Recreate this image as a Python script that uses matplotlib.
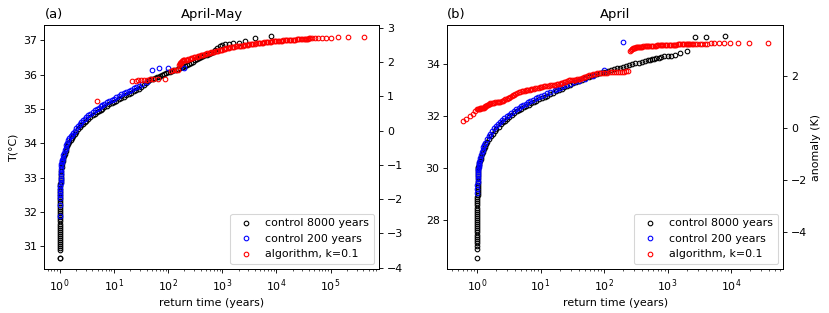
import matplotlib
matplotlib.use("Agg")
import matplotlib.pyplot as plt

# ---- panel (a): April-May ----
black_a_x = [1.0, 1.0, 1.001, 1.001, 1.002, 1.002, 1.003, 1.003, 1.004, 1.004,
             1.005, 1.005, 1.006, 1.007, 1.008, 1.009, 1.01, 1.011, 1.012, 1.013,
             1.014, 1.015, 1.016, 1.017, 1.018, 1.019, 1.02, 1.021, 1.022, 1.023,
             1.025, 1.027, 1.029, 1.031, 1.033, 1.036, 1.039, 1.042, 1.046, 1.05,
             1.06, 1.08, 1.10, 1.13, 1.167, 1.202, 1.24, 1.282, 1.327, 1.371,
             1.419, 1.503, 1.592, 1.683, 1.782, 1.888, 2.023, 2.173, 2.328, 2.5,
             2.685, 2.884, 3.097, 3.38, 3.69, 4.03, 4.4, 4.79, 5.2, 5.66,
             6.15, 6.7, 7.41, 8.2, 9.06, 10.02, 11.09, 12.33, 13.71, 15.2,
             16.9, 18.8, 20.9, 23.2, 25.8, 28.6, 32, 36, 39, 42,
             45, 49, 53, 57, 62, 67, 72, 78, 85, 92,
             100, 108, 117, 127, 138, 150, 163, 177, 192, 208,
             226, 245, 266, 290, 315, 342, 372, 405, 440, 480,
             533, 571, 615, 667, 727, 800, 889, 1000, 1143, 1333,
             1600, 2000, 2667, 4000, 8000]
black_a_T = [30.65, 30.67, 30.88, 30.94, 31.0, 31.06, 31.12, 31.18, 31.24, 31.3,
             31.36, 31.42, 31.48, 31.54, 31.6, 31.66, 31.72, 31.78, 31.84, 31.9,
             31.96, 32.02, 32.08, 32.14, 32.2, 32.26, 32.32, 32.38, 32.44, 32.5,
             32.56, 32.62, 32.68, 32.74, 32.8, 32.86, 32.92, 32.98, 33.04, 33.1,
             33.2, 33.3, 33.4, 33.48, 33.55, 33.62, 33.69, 33.76, 33.84, 33.91,
             33.98, 34.04, 34.1, 34.15, 34.21, 34.27, 34.34, 34.4, 34.47, 34.52,
             34.57, 34.61, 34.66, 34.71, 34.76, 34.81, 34.86, 34.9, 34.94, 34.97,
             35.01, 35.05, 35.09, 35.13, 35.16, 35.2, 35.24, 35.28, 35.32, 35.36,
             35.4, 35.44, 35.47, 35.51, 35.55, 35.59, 35.65, 35.71, 35.76, 35.8,
             35.84, 35.86, 35.88, 35.9, 35.92, 35.94, 35.96, 35.98, 36.01, 36.04,
             36.06, 36.08, 36.1, 36.12, 36.14, 36.17, 36.19, 36.21, 36.23, 36.26,
             36.29, 36.32, 36.35, 36.38, 36.41, 36.44, 36.47, 36.5, 36.53, 36.56,
             36.58, 36.6, 36.63, 36.66, 36.72, 36.78, 36.82, 36.85, 36.88, 36.9,
             36.91, 36.93, 36.97, 37.06, 37.12]

blue_a_x = [1.0, 1.005, 1.01, 1.015, 1.02, 1.026, 1.031, 1.036, 1.042, 1.047,
            1.053, 1.058, 1.064, 1.07, 1.075, 1.081, 1.087, 1.10, 1.13, 1.167,
            1.202, 1.24, 1.282, 1.327, 1.371, 1.419, 1.503, 1.592, 1.683, 1.782,
            1.888, 2.023, 2.173, 2.328, 2.5, 2.685, 2.884, 3.097, 3.38, 3.69,
            4.03, 4.4, 4.79, 5.2, 5.66, 6.15, 6.7, 7.41, 8.2, 9.06,
            10.02, 11.09, 12.33, 13.71, 15.2, 16.9, 18.8, 20.9, 23.2, 25.8,
            28.6, 33.3, 40, 50, 66.7, 100, 200]
blue_a_T = [31.87, 32.19, 32.39, 32.5, 32.58, 32.66, 32.74, 32.83, 32.92, 33.0,
            33.09, 33.17, 33.25, 33.33, 33.39, 33.44, 33.47, 33.5, 33.57, 33.65,
            33.72, 33.79, 33.86, 33.94, 34.01, 34.08, 34.14, 34.2, 34.25, 34.31,
            34.37, 34.44, 34.5, 34.57, 34.62, 34.67, 34.71, 34.76, 34.81, 34.86,
            34.91, 34.96, 35.0, 35.04, 35.07, 35.11, 35.15, 35.19, 35.23, 35.26,
            35.3, 35.34, 35.38, 35.42, 35.45, 35.49, 35.53, 35.56, 35.6, 35.63,
            35.66, 35.72, 35.78, 36.14, 36.19, 36.2, 36.2]

red_a_x = [4.86, 21.8, 25.1, 28.1, 31.4, 36.3, 40.5, 45.4, 53.8, 64.6,
           85.9, 114, 125, 140, 155, 162, 165, 168, 171, 175,
           180, 186, 193, 200, 212, 224, 237, 251, 266, 282,
           299, 316, 335, 355, 376, 398, 422, 447, 473, 501,
           531, 562, 596, 631, 669, 708, 750, 794, 841, 891,
           944, 1000, 1060, 1122, 1189, 1259, 1334, 1413, 1497, 1585,
           1679, 1778, 1884, 1995, 2113, 2239, 2371, 2512, 2661, 2818,
           2985, 3162, 3350, 3548, 3758, 3981, 4217, 4467, 4732, 5012,
           5309, 5623, 5957, 6310, 6683, 7079, 7499, 7943, 8414, 8913,
           9441, 10000, 10590, 11220, 11890, 12590, 13340, 14130, 14970, 15850,
           16790, 17780, 18840, 19950, 21130, 22390, 23710, 25120, 26610, 28180,
           29850, 31620, 33000, 34500, 36000, 37600, 39400, 41400, 46000, 51750,
           59100, 69000, 82800, 103500, 138000, 207000, 414000]
red_a_T = [35.24, 35.82, 35.82, 35.83, 35.83, 35.84, 35.85, 35.86, 35.86, 35.87,
           35.88, 36.11, 36.12, 36.12, 36.13, 36.28, 36.31, 36.33, 36.35, 36.37,
           36.39, 36.41, 36.415, 36.42, 36.425, 36.43, 36.445, 36.46, 36.475, 36.49,
           36.5, 36.51, 36.52, 36.53, 36.545, 36.56, 36.57, 36.58, 36.595, 36.61,
           36.62, 36.63, 36.64, 36.65, 36.66, 36.67, 36.68, 36.69, 36.7, 36.71,
           36.72, 36.73, 36.74, 36.75, 36.76, 36.77, 36.78, 36.79, 36.8, 36.81,
           36.815, 36.82, 36.825, 36.83, 36.835, 36.84, 36.845, 36.85, 36.86, 36.87,
           36.875, 36.88, 36.885, 36.89, 36.895, 36.9, 36.905, 36.91, 36.915, 36.92,
           36.925, 36.93, 36.935, 36.94, 36.945, 36.95, 36.955, 36.96, 36.965, 36.97,
           36.97, 36.97, 36.975, 36.98, 36.985, 36.99, 36.995, 37.0, 37.0, 37.0,
           37.005, 37.01, 37.015, 37.02, 37.02, 37.02, 37.025, 37.03, 37.035, 37.04,
           37.04, 37.04, 37.045, 37.05, 37.05, 37.05, 37.055, 37.06, 37.06, 37.07,
           37.07, 37.07, 37.07, 37.07, 37.08, 37.08, 37.08]

# ---- panel (b): April ----
black_b_x = [1.0, 1.0, 1.0, 1.001, 1.001, 1.001, 1.002, 1.002, 1.002, 1.003,
             1.003, 1.003, 1.004, 1.004, 1.005, 1.005, 1.006, 1.006, 1.007, 1.008,
             1.009, 1.01, 1.011, 1.012, 1.013, 1.014, 1.015, 1.016, 1.017, 1.018,
             1.02, 1.022, 1.024, 1.026, 1.028, 1.031, 1.034, 1.037, 1.041, 1.045,
             1.05, 1.07, 1.09, 1.11, 1.14, 1.17, 1.2, 1.24, 1.28, 1.33,
             1.38, 1.45, 1.54, 1.64, 1.75, 1.88, 2.02, 2.18, 2.35, 2.54,
             2.74, 2.96, 3.2, 3.5, 3.83, 4.2, 4.6, 5.0, 5.45, 5.95,
             6.5, 7.1, 7.8, 8.6, 9.5, 10.5, 11.6, 12.8, 14.2, 15.7,
             17.4, 19.3, 21.4, 23.7, 26.3, 29.2, 32.4, 36, 40, 45,
             51, 57, 63, 70, 78, 87, 96, 106, 117, 130,
             144, 160, 178, 198, 220, 245, 275, 311, 350, 395,
             448, 500, 533, 571, 615, 667, 727, 800, 889, 1000,
             1143, 1333, 1600, 2000, 2667, 4000, 8000]
black_b_T = [26.53, 26.88, 27.0, 27.1, 27.2, 27.28, 27.36, 27.44, 27.52, 27.6,
             27.68, 27.76, 27.84, 27.92, 28.0, 28.08, 28.16, 28.24, 28.32, 28.4,
             28.48, 28.56, 28.64, 28.72, 28.8, 28.88, 28.96, 29.04, 29.12, 29.2,
             29.28, 29.36, 29.44, 29.52, 29.6, 29.68, 29.76, 29.84, 29.92, 30.0,
             30.05, 30.12, 30.19, 30.26, 30.35, 30.44, 30.53, 30.63, 30.72, 30.82,
             30.91, 31.01, 31.12, 31.22, 31.32, 31.42, 31.51, 31.6, 31.68, 31.76,
             31.83, 31.9, 31.97, 32.04, 32.11, 32.18, 32.24, 32.29, 32.34, 32.39,
             32.44, 32.49, 32.54, 32.59, 32.64, 32.69, 32.74, 32.79, 32.84, 32.89,
             32.95, 33.0, 33.06, 33.11, 33.16, 33.21, 33.26, 33.31, 33.36, 33.4,
             33.45, 33.49, 33.53, 33.57, 33.61, 33.65, 33.68, 33.71, 33.74, 33.78,
             33.81, 33.84, 33.87, 33.9, 33.93, 33.96, 33.99, 34.03, 34.06, 34.1,
             34.13, 34.15, 34.17, 34.19, 34.2, 34.22, 34.25, 34.28, 34.3, 34.31,
             34.32, 34.35, 34.44, 34.51, 35.04, 35.05, 35.08]

blue_b_x = [1.0, 1.005, 1.01, 1.015, 1.02, 1.026, 1.031, 1.036, 1.042, 1.047,
            1.053, 1.064, 1.075, 1.087, 1.10, 1.13, 1.16, 1.19, 1.22, 1.26,
            1.30, 1.35, 1.43, 1.52, 1.62, 1.72, 1.86, 2.0, 2.16, 2.33,
            2.51, 2.70, 2.92, 3.14, 3.44, 3.77, 4.13, 4.52, 4.92, 5.35,
            5.82, 6.34, 6.9, 7.6, 8.37, 9.23, 10.16, 11.2, 12.5, 14.3,
            16.7, 18.2, 20, 22.2, 25, 28.6, 33.3, 40, 50, 66.7,
            100, 200]
blue_b_T = [29.03, 29.2, 29.35, 29.47, 29.58, 29.68, 29.77, 29.85, 29.92, 29.98,
            30.03, 30.1, 30.17, 30.23, 30.3, 30.4, 30.5, 30.6, 30.7, 30.8,
            30.88, 30.98, 31.1, 31.22, 31.33, 31.42, 31.53, 31.62, 31.71, 31.79,
            31.86, 31.93, 32.0, 32.06, 32.13, 32.2, 32.27, 32.33, 32.38, 32.43,
            32.48, 32.53, 32.58, 32.63, 32.68, 32.73, 32.78, 32.83, 32.88, 32.94,
            33.01, 33.05, 33.1, 33.15, 33.2, 33.25, 33.3, 33.36, 33.43, 33.55,
            33.78, 34.87]

red_b_x = [0.59, 0.68, 0.76, 0.85, 0.92, 1.0, 1.03, 1.06, 1.095, 1.13,
           1.165, 1.2, 1.235, 1.27, 1.31, 1.35, 1.395, 1.44, 1.485, 1.53,
           1.575, 1.62, 1.7, 1.78, 1.86, 1.94, 2.03, 2.13, 2.23, 2.33,
           2.44, 2.55, 2.67, 2.79, 2.92, 3.05, 3.2, 3.35, 3.5, 3.65,
           3.82, 4.0, 4.25, 4.5, 4.8, 5.1, 5.35, 5.6, 5.85, 6.1,
           6.4, 6.7, 7.0, 7.35, 7.8, 8.3, 8.8, 9.35, 9.8, 10.2,
           10.7, 11.2, 11.9, 12.7, 13.5, 14.3, 15.2, 16.1, 17.1, 18.1,
           19.0, 19.9, 20.8, 21.8, 23.2, 24.6, 26.1, 27.7, 29.4, 31.3,
           33.2, 35.3, 37.6, 40, 42.4, 45, 48, 51, 54, 57.5,
           61.5, 66, 71, 77, 83, 89, 97, 105, 113, 122,
           132, 142, 154, 166, 179, 192, 207, 222, 235, 260,
           266, 272, 278, 285, 292, 300, 310, 320, 332, 345,
           357, 370, 385, 400, 417, 435, 455, 475, 497, 520,
           545, 570, 597, 625, 655, 685, 717, 750, 785, 820,
           860, 900, 945, 990, 1040, 1090, 1145, 1200, 1260, 1320,
           1385, 1450, 1525, 1600, 1680, 1760, 1850, 1940, 2030, 2130,
           2210, 2290, 2394, 2553, 2736, 2946, 3192, 3482, 3830, 4256,
           4788, 5471, 6383, 7660, 9575, 12770, 19150, 38300]
red_b_T = [31.81, 31.9, 32.0, 32.1, 32.19, 32.26, 32.27, 32.28, 32.29, 32.3,
           32.3, 32.31, 32.32, 32.33, 32.35, 32.38, 32.4, 32.42, 32.44, 32.46,
           32.47, 32.49, 32.5, 32.51, 32.52, 32.53, 32.535, 32.54, 32.545, 32.55,
           32.57, 32.6, 32.62, 32.64, 32.66, 32.69, 32.71, 32.74, 32.77, 32.8,
           32.83, 32.87, 32.89, 32.91, 32.93, 32.95, 32.965, 32.98, 32.99, 33.0,
           33.01, 33.02, 33.03, 33.04, 33.055, 33.07, 33.08, 33.09, 33.105, 33.12,
           33.135, 33.15, 33.16, 33.17, 33.175, 33.18, 33.19, 33.2, 33.215, 33.23,
           33.24, 33.25, 33.265, 33.28, 33.3, 33.33, 33.355, 33.38, 33.385, 33.39,
           33.395, 33.4, 33.415, 33.43, 33.445, 33.46, 33.49, 33.52, 33.55, 33.58,
           33.6, 33.63, 33.64, 33.65, 33.655, 33.66, 33.665, 33.67, 33.675, 33.68,
           33.685, 33.69, 33.695, 33.7, 33.705, 33.71, 33.715, 33.72, 33.73, 34.52,
           34.56, 34.58, 34.6, 34.61, 34.62, 34.63, 34.64, 34.65, 34.655, 34.66,
           34.665, 34.67, 34.675, 34.68, 34.685, 34.69, 34.69, 34.69, 34.695, 34.7,
           34.7, 34.7, 34.705, 34.71, 34.715, 34.72, 34.72, 34.72, 34.725, 34.73,
           34.73, 34.73, 34.735, 34.74, 34.74, 34.74, 34.745, 34.75, 34.75, 34.75,
           34.755, 34.76, 34.76, 34.76, 34.765, 34.77, 34.77, 34.77, 34.775, 34.78,
           34.78, 34.78, 34.79, 34.79, 34.79, 34.79, 34.79, 34.79, 34.79, 34.79,
           34.8, 34.8, 34.8, 34.8, 34.8, 34.8, 34.8, 34.8]

# mean temperature used for the anomaly axis
mean_a = 34.37
mean_b = 31.55

xticks_a = [1, 10, 100, 1000, 10000, 100000]
xticks_b = [1, 10, 100, 1000, 10000]

labels = ["control 8000 years", "control 200 years", "algorithm, k=0.1"]

fig = plt.figure(figsize=(830 / 79, 313 / 79), dpi=79)
ax_a = fig.add_axes([0.0536, 0.1396, 0.4034, 0.7805])
ax_b = fig.add_axes([0.5389, 0.1396, 0.4048, 0.7805])

panels = [
    (ax_a, "(a)", "April-May", mean_a, xticks_a,
     [(black_a_x, black_a_T, "k"), (blue_a_x, blue_a_T, "b"), (red_a_x, red_a_T, "r")]),
    (ax_b, "(b)", "April", mean_b, xticks_b,
     [(black_b_x, black_b_T, "k"), (blue_b_x, blue_b_T, "b"), (red_b_x, red_b_T, "r")]),
]

for ax, tag, title, mean, xt, series in panels:
    for (x, t, c), lab in zip(series, labels):
        ax.plot(x, t, "o", ms=4.2, mew=1.0, mfc="none", mec=c, label=lab)
    ax.set_xscale("log")
    ax.set_xticks(xt)
    ax.set_title(title)
    ax.set_title(tag, loc="left")
    ax.set_xlabel("return time (years)")
    ax.legend(loc="lower right")
    y0, y1 = ax.get_ylim()
    ax2 = ax.twinx()
    ax2.set_ylim(y0 - mean, y1 - mean)
    if tag == "(b)":
        ax2.set_ylabel("anomaly (K)")

ax_a.set_ylabel("T(°C)")

fig.savefig("out.png", dpi=79)
